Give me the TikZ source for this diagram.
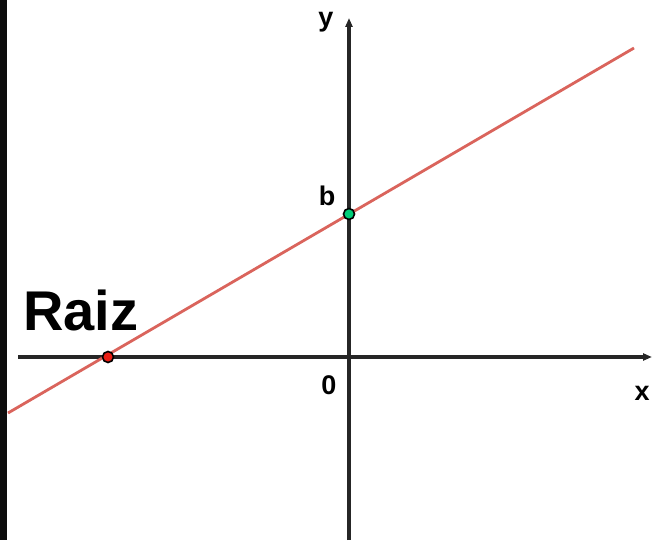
\documentclass[tikz,border=0pt]{standalone}
\usepackage{fontspec}
\setmainfont{Liberation Sans}
\usetikzlibrary{arrows.meta}
\definecolor{linered}{RGB}{218,100,92}
\definecolor{dotgreen}{RGB}{0,205,120}
\definecolor{dotred}{RGB}{235,30,20}
\begin{document}
\begin{tikzpicture}[x=1pt,y=-1pt,
  axis/.style={line width=3.4pt,black!85,-{Triangle[length=9pt,width=7pt]}},
  fline/.style={line width=2.8pt,linered},
  lbl/.style={font=\bfseries\fontsize{27}{27}\selectfont,inner sep=0pt},
  dot/.style={circle,draw=black,line width=1.6pt,minimum size=11pt,inner sep=0pt}]
\useasboundingbox (0,0) rectangle (652,540);
\fill[white] (0,0) rectangle (652,540);
\fill[black!95] (0,0) rectangle (7,540);
% axes
\coordinate (xs) at (18,357);
\coordinate (xe) at (652,357);
\coordinate (ys) at (349,540);
\coordinate (ye) at (349,18);
\draw[axis] (xs) -- (xe);
\draw[axis] (ys) -- (ye);
% function line
\coordinate (l1) at (8,413);
\coordinate (l2) at (634,48);
\draw[fline] (l1) -- (l2);
% points
\node[dot,fill=dotgreen] (b) at (349,214) {};
\node[dot,fill=dotred] (r) at (108,357) {};
% labels
\node[lbl] (ylab) at (326,22) {y};
\node[lbl] (blab) at (327,196) {b};
\node[lbl] (zlab) at (329,385) {0};
\node[lbl] (xlab) at (642,393) {x};
\node[inner sep=0pt,font=\bfseries\fontsize{56}{56}\selectfont] (raiz) at (81,310) {Raiz};
\end{tikzpicture}
\end{document}
